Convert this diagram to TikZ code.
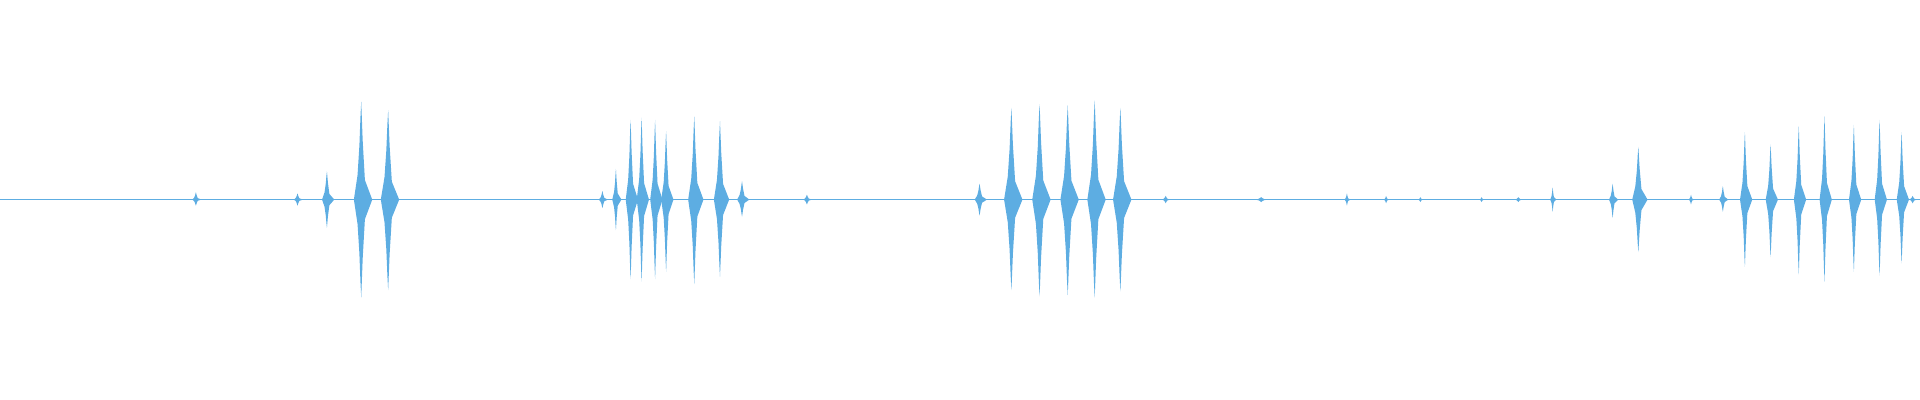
\documentclass[tikz,border=0pt]{standalone}
\definecolor{wave}{RGB}{93,173,226}
\begin{document}
\begin{tikzpicture}[x=1.2245pt,y=-1.2245pt]
\useasboundingbox (0,0) rectangle (1568,326.67);
\draw[wave,line width=0.6pt] (0,163) -- (1568,163);
\foreach \x/\t/\b/\w in {
 160/157/168/3, 243/158/168/3, 267/140/186/4, 295/83/243/6, 317/90/237/6,
 492/156/170/3, 503/138/188/3, 515/98/228/4, 524/96/230/4, 535/98/228/4, 544/107/222/4, 567/95/232/5, 588/99/226/5, 606/148/177/4, 659/159/167/3,
 800/150/176/4, 826/88/237/6, 849/85/242/6, 872/86/241/6, 894/82/243/6, 915/88/238/6, 952/160/166/3,
 1100/158/168/2, 1132/160/166/2, 1268/153/173/2, 1160/161/165/2, 1210/161/165/2, 1240/161/165/3, 1030/161/165/5,
 1317/150/178/3, 1338/120/206/5, 1381/159/167/2, 1407/152/173/3, 1425/108/218/4, 1446/118/210/4, 1469/103/224/4, 1490/95/230/4, 1514/102/222/4, 1535/98/225/4, 1553/108/215/4, 1562/160/166/3}
{
 \fill[wave] ({\x-\w},163) -- ({\x-0.5*\w},{163-0.25*(163-\t)}) -- ({\x-0.25*\w},{163-0.55*(163-\t)}) -- ({\x-0.1*\w},{163-0.85*(163-\t)}) -- (\x,\t)
  -- ({\x+0.2*\w},{163-0.6*(163-\t)}) -- ({\x+0.5*\w},{163-0.2*(163-\t)}) -- ({\x+1.5*\w},163)
  -- ({\x+0.5*\w},{163+0.2*(\b-163)}) -- ({\x+0.2*\w},{163+0.6*(\b-163)}) -- (\x,\b)
  -- ({\x-0.1*\w},{163+0.85*(\b-163)}) -- ({\x-0.25*\w},{163+0.55*(\b-163)}) -- ({\x-0.5*\w},{163+0.25*(\b-163)}) -- cycle;
}
\end{tikzpicture}
\end{document}
